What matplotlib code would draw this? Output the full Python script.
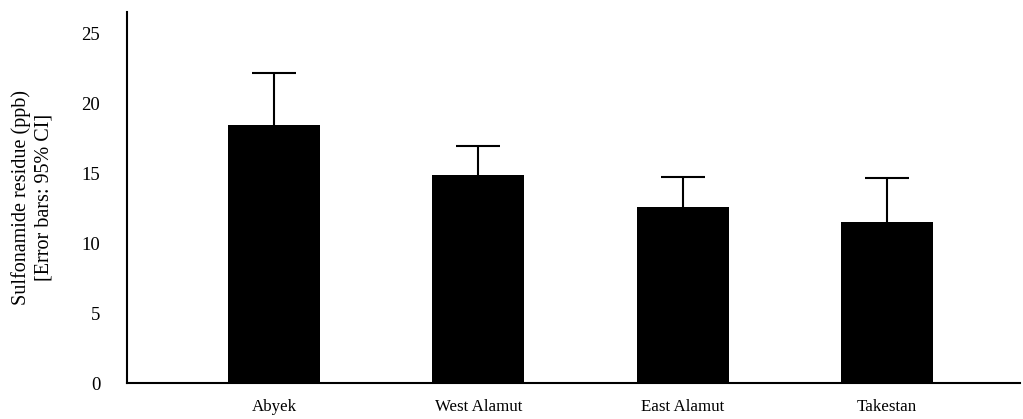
import numpy as np
from matplotlib import pyplot as plt

regions = ['Abyek', 'West Alamut', 'East Alamut', 'Takestan']
mean_ppb = [18.45, 14.88, 12.62, 11.55]
ci_upper = [22.2, 16.97, 14.76, 14.69]

plt.rcParams['font.family'] = ['Liberation Serif', 'DejaVu Serif']

fig = plt.figure(figsize=(10.23, 4.19), dpi=100)
ax = fig.add_axes([0.1239, 0.0852, 0.873, 0.8854])

x = np.arange(len(regions))
err_up = np.array(ci_upper) - np.array(mean_ppb)
ax.bar(x, mean_ppb, width=0.45, color='black', zorder=3)
eb = ax.errorbar(x, mean_ppb, yerr=[np.zeros(len(x)), err_up], fmt='none',
                 ecolor='black', elinewidth=1.5, capsize=15.5, capthick=1.5, zorder=2)
# hide the lower caps (only the upper half of the CI is shown)
eb[1][0].set_visible(False)

ax.set_xlim(-0.72, 3.65)
ax.set_ylim(0, 26.5)
ax.set_yticks(range(0, 26, 5))
ax.set_xticks(x)
ax.set_xticklabels(regions, fontsize=12.2)
ax.tick_params(axis='both', length=0)
ax.tick_params(axis='y', pad=19, labelsize=13.5)
ax.tick_params(axis='x', pad=11)

for s in ['top', 'right']:
    ax.spines[s].set_visible(False)
for s in ['left', 'bottom']:
    ax.spines[s].set_linewidth(1.5)

ax.set_ylabel('Sulfonamide residue (ppb)\n[Error bars: 95% CI]', fontsize=14.5,
              linespacing=1.25)
ax.yaxis.set_label_coords(-0.082, 0.5)

fig.savefig('out.png', dpi=100)
